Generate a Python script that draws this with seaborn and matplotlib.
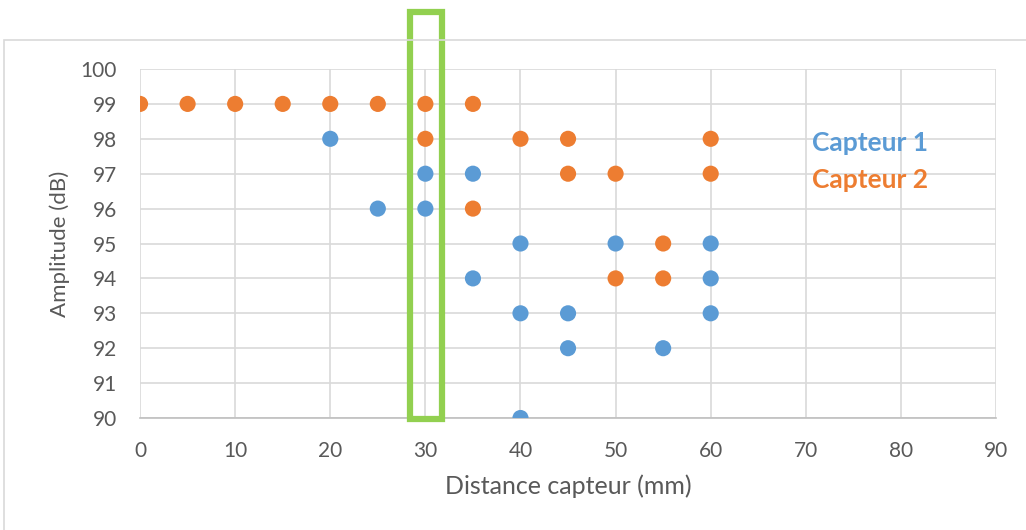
import pandas as pd
import seaborn as sns
import matplotlib.pyplot as plt
from matplotlib.patches import Rectangle

# Capteur 1 (visible points)
dist_c1 = [20, 25, 30, 30, 35, 35, 40, 40, 40, 45, 45, 50, 55, 60, 60, 60]
amp_c1 = [98, 96, 97, 96, 97, 94, 95, 93, 90, 93, 92, 95, 92, 95, 94, 93]

# Capteur 2
dist_c2 = [0, 5, 10, 15, 20, 25, 30, 30, 35, 35, 40, 45, 45, 50, 50, 55, 55, 60, 60]
amp_c2 = [99, 99, 99, 99, 99, 99, 99, 98, 99, 96, 98, 98, 97, 97, 94, 95, 94, 98, 97]

series = ['Capteur 1', 'Capteur 2']
colors = ['#5B9BD5', '#ED7D31']

df = pd.concat([
    pd.DataFrame({'dist': dist_c1, 'amp': amp_c1, 'capteur': series[0]}),
    pd.DataFrame({'dist': dist_c2, 'amp': amp_c2, 'capteur': series[1]}),
])

sns.set_style('white')
plt.rcParams['font.family'] = ['Lato', 'DejaVu Sans']

fig = plt.figure(figsize=(10.26, 5.3), dpi=100)
ax = fig.add_axes([0.1365, 0.2113, 0.8343, 0.6585])

sns.scatterplot(data=df, x='dist', y='amp', hue='capteur', palette=colors,
                s=135, linewidth=0, legend=False, ax=ax, zorder=3)

ax.set_xlim(0, 90)
ax.set_ylim(90, 100)
ax.set_xticks(range(0, 91, 10))
ax.set_yticks(range(90, 101, 1))
ax.grid(True, color='#D9D9D9', linewidth=1.2)
ax.set_axisbelow(True)
for side in ['top', 'right', 'left']:
    ax.spines[side].set_visible(False)
ax.spines['bottom'].set_color('#BFBFBF')
ax.spines['bottom'].set_linewidth(1.2)
ax.tick_params(axis='both', length=0, labelsize=15, colors='#595959', pad=16.5)
ax.set_xlabel('Distance capteur (mm)', fontsize=18, color='#595959', labelpad=10)
ax.set_ylabel('Amplitude (dB)', fontsize=16, color='#595959', labelpad=8)

# legend as colored text
ax.text(0.785, 0.788, series[0], transform=ax.transAxes, color=colors[0],
        fontsize=19, fontweight='bold', va='center')
ax.text(0.785, 0.682, series[1], transform=ax.transAxes, color=colors[1],
        fontsize=19, fontweight='bold', va='center')

# green highlight box around 30 mm
ax.add_patch(Rectangle((28.4, 89.98), 3.35, 11.65, fill=False, edgecolor='#92D050',
                       linewidth=4.5, clip_on=False, zorder=4))

# outer chart border
fig.add_artist(Rectangle((4 / 1026, -0.1), 1.2, 1 - 40 / 530 + 0.1, fill=False,
                         edgecolor='#D9D9D9', linewidth=1.2, transform=fig.transFigure))

fig.savefig('out.png', dpi=100)
